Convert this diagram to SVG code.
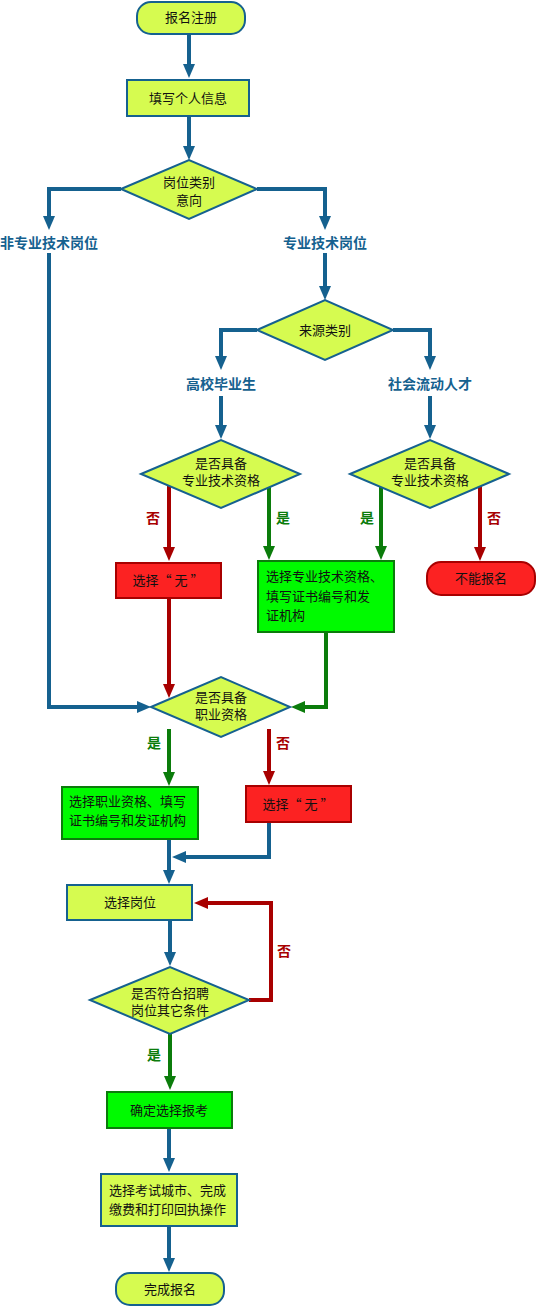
<svg xmlns="http://www.w3.org/2000/svg" width="536" height="1307" viewBox="0 0 536 1307">
<style>
text{font-family:"Noto Sans CJK SC","Liberation Sans",sans-serif;font-size:13px;fill:#111}
.c{text-anchor:middle}
.y{fill:#d6fb50;stroke:#15618f;stroke-width:2}
.r{fill:#fc2222;stroke:#a80000;stroke-width:2}
.g{fill:#00fa00;stroke:#0b7c0b;stroke-width:2}
.lb,.lr,.lg{stroke-width:4;fill:none}
.lb{stroke:#15618f}.lr{stroke:#a80000}.lg{stroke:#0b7c0b}
.t{font-size:14px;font-weight:bold;text-anchor:middle;stroke:#fff;stroke-width:3;paint-order:stroke;stroke-linejoin:round}
.tb{fill:#15618f}.tr{fill:#a80000}.tg{fill:#0b7c0b}
</style>
<defs>
<marker id="ab" markerUnits="userSpaceOnUse" markerWidth="14" markerHeight="12" viewBox="0 0 14 12" refX="4" refY="6" orient="auto"><path d="M0,0L14,6L0,12z" fill="#15618f"/></marker>
<marker id="ar" markerUnits="userSpaceOnUse" markerWidth="14" markerHeight="12" viewBox="0 0 14 12" refX="4" refY="6" orient="auto"><path d="M0,0L14,6L0,12z" fill="#a80000"/></marker>
<marker id="ag" markerUnits="userSpaceOnUse" markerWidth="14" markerHeight="12" viewBox="0 0 14 12" refX="4" refY="6" orient="auto"><path d="M0,0L14,6L0,12z" fill="#0b7c0b"/></marker>
</defs>
<g id="connectors">
<path class="lb" marker-end="url(#ab)" d="M189,34V68"/>
<path class="lb" marker-end="url(#ab)" d="M189,116V150"/>
<path class="lb" marker-end="url(#ab)" d="M121,189H49V220"/>
<path class="lb" marker-end="url(#ab)" d="M257,189H325V220"/>
<path class="lb" marker-end="url(#ab)" d="M49,253V707H141"/>
<path class="lb" marker-end="url(#ab)" d="M325,253V290"/>
<path class="lb" marker-end="url(#ab)" d="M257,330H221V360"/>
<path class="lb" marker-end="url(#ab)" d="M393,330H430V360"/>
<path class="lb" marker-end="url(#ab)" d="M221,396V429"/>
<path class="lb" marker-end="url(#ab)" d="M430,396V429"/>
<path class="lr" marker-end="url(#ar)" d="M169,485V551"/>
<path class="lg" marker-end="url(#ag)" d="M269,487V550"/>
<path class="lg" marker-end="url(#ag)" d="M381,487V550"/>
<path class="lr" marker-end="url(#ar)" d="M480,485V551"/>
<path class="lr" marker-end="url(#ar)" d="M169,598V688"/>
<path class="lg" marker-end="url(#ag)" d="M326,632V707H301"/>
<path class="lg" marker-end="url(#ag)" d="M169,729V776"/>
<path class="lr" marker-end="url(#ar)" d="M269,729V775"/>
<path class="lb" marker-end="url(#ab)" d="M169,839V874"/>
<path class="lb" marker-end="url(#ab)" d="M269,822V857H182"/>
<path class="lb" marker-end="url(#ab)" d="M170,921V956"/>
<path class="lr" marker-end="url(#ar)" d="M249,1000H271V903H204"/>
<path class="lg" marker-end="url(#ag)" d="M170,1034V1080"/>
<path class="lb" marker-end="url(#ab)" d="M169,1128V1162"/>
<path class="lb" marker-end="url(#ab)" d="M169,1226V1262"/>
<text class="t tb" x="49" y="248">非专业技术岗位</text>
<text class="t tb" x="325" y="248">专业技术岗位</text>
<text class="t tb" x="221" y="389">高校毕业生</text>
<text class="t tb" x="430" y="389">社会流动人才</text>
<text class="t tr" x="153" y="523">否</text>
<text class="t tg" x="283" y="523">是</text>
<text class="t tg" x="367" y="523">是</text>
<text class="t tr" x="494" y="523">否</text>
<text class="t tg" x="154" y="748">是</text>
<text class="t tr" x="283" y="748">否</text>
<text class="t tr" x="284" y="956">否</text>
<text class="t tg" x="154" y="1060">是</text>
</g>
<g id="n1"><rect class="y" x="137" y="2" width="108" height="32" rx="14"/><text class="c" x="191" y="22">报名注册</text></g>
<g id="n2"><rect class="y" x="127" y="80" width="122" height="36"/><text class="c" x="188" y="103">填写个人信息</text></g>
<g id="d1"><path class="y" d="M121,189L189,160L257,189L189,219z"/><text class="c" x="189" y="187">岗位类别</text><text class="c" x="189" y="205">意向</text></g>
<g id="d2"><path class="y" d="M257,330L325,300L393,330L325,360z"/><text class="c" x="325" y="335">来源类别</text></g>
<g id="d3a"><path class="y" d="M141,474L221,440L300,474L221,508z"/><text class="c" x="221" y="468">是否具备</text><text class="c" x="221" y="485">专业技术资格</text></g>
<g id="d3b"><path class="y" d="M350,474L430,440L509,474L430,508z"/><text class="c" x="430" y="468">是否具备</text><text class="c" x="430" y="485">专业技术资格</text></g>
<g id="r1"><rect class="r" x="116" y="563" width="105" height="35"/><text class="c" x="168" y="585">选择“ 无 ”</text></g>
<g id="g1"><rect class="g" x="258" y="561" width="136" height="71"/><text x="266" y="581">选择专业技术资格、</text><text x="266" y="601">填写证书编号和发</text><text x="266" y="620">证机构</text></g>
<g id="stop"><rect class="r" x="427" y="562" width="108" height="33" rx="14"/><text class="c" x="481" y="583">不能报名</text></g>
<g id="d4"><path class="y" d="M151,707L221,677L290,707L221,737z"/><text class="c" x="221" y="702">是否具备</text><text class="c" x="221" y="719">职业资格</text></g>
<g id="g2"><rect class="g" x="62" y="787" width="136" height="52"/><text x="69" y="806">选择职业资格、填写</text><text x="69" y="825">证书编号和发证机构</text></g>
<g id="r2"><rect class="r" x="246" y="786" width="105" height="36"/><text class="c" x="298" y="809">选择“ 无 ”</text></g>
<g id="n3"><rect class="y" x="67" y="885" width="125" height="35"/><text class="c" x="130" y="907">选择岗位</text></g>
<g id="d5"><path class="y" d="M90,1000L170,967L249,1000L170,1034z"/><text class="c" x="170" y="998">是否符合招聘</text><text class="c" x="170" y="1015">岗位其它条件</text></g>
<g id="g3"><rect class="g" x="107" y="1092" width="125" height="36"/><text class="c" x="169" y="1115">确定选择报考</text></g>
<g id="n4"><rect class="y" x="101" y="1174" width="136" height="52"/><text x="109" y="1195">选择考试城市、完成</text><text x="109" y="1214">缴费和打印回执操作</text></g>
<g id="n5"><rect class="y" x="116" y="1273" width="108" height="32" rx="14"/><text class="c" x="170" y="1294">完成报名</text></g>
</svg>
